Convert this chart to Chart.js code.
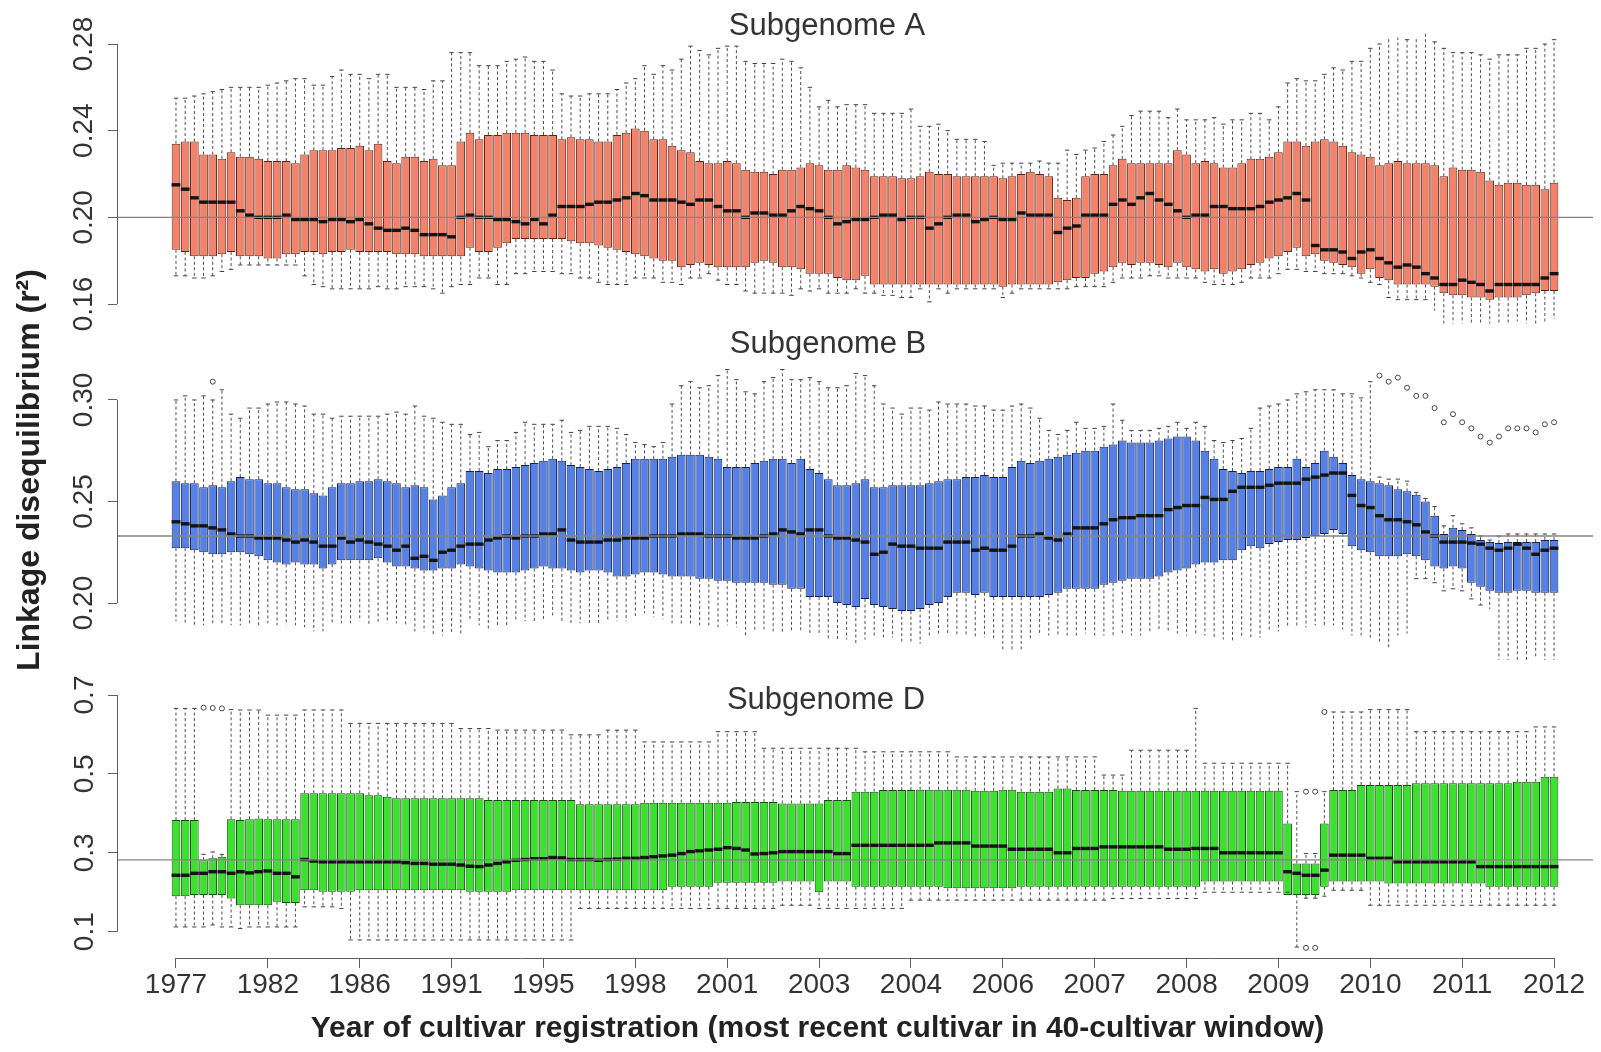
<!DOCTYPE html>
<html><head><meta charset="utf-8">
<script src="https://cdn.jsdelivr.net/npm/chart.js@4.4.1/dist/chart.umd.min.js"></script>
<style>
html,body{margin:0;padding:0;background:#fff;overflow:hidden;width:1601px;height:1052px;position:relative}
canvas{position:absolute;left:0;top:0}
</style></head><body>
<canvas id="cA" width="1601" height="1052"></canvas>
<canvas id="cB" width="1601" height="1052"></canvas>
<canvas id="cD" width="1601" height="1052"></canvas>
<script>
// ---- categories / tick labels ----
const xTickIdx = [0,10,20,30,40,50,60,70,80,90,100,110,120,130,140,150];
const yearLabels = ['1977','1982','1986','1991','1995','1998','2001','2003','2004','2006','2007','2008','2009','2010','2011','2012'];
const panelTitles = ['Subgenome A','Subgenome B','Subgenome D'];
const xTitle = 'Year of cultivar registration (most recent cultivar in 40-cultivar window)';
const yTitle = 'Linkage disequilibrium (r\u00B2)';
const yTicksA = [0.16,0.20,0.24,0.28], yLabelsA = ['0.16','0.20','0.24','0.28'];
const yTicksB = [0.20,0.25,0.30], yLabelsB = ['0.20','0.25','0.30'];
const yTicksD = [0.1,0.3,0.5,0.7], yLabelsD = ['0.1','0.3','0.5','0.7'];
const refA = 0.200, refB = 0.233, refD = 0.282;

// ---- Subgenome A ----
const loA = [.173,.173,.172,.172,.173,.175,.176,.178,.178,.178,
.178,.178,.178,.178,.173,.169,.168,.167,.167,.167,
.167,.167,.168,.167,.167,.168,.168,.168,.167,.165,
.168,.169,.169,.172,.172,.169,.169,.174,.174,.175,
.175,.175,.174,.174,.172,.172,.170,.169,.169,.169,
.172,.172,.172,.170,.170,.169,.172,.172,.174,.171,
.169,.169,.166,.165,.165,.165,.165,.164,.167,.166,
.167,.165,.165,.165,.167,.165,.165,.164,.164,.163,
.163,.167,.161,.167,.165,.167,.167,.167,.167,.167,
.163,.165,.167,.167,.167,.167,.167,.167,.168,.168,
.168,.168,.170,.172,.172,.172,.173,.173,.172,.172,
.172,.172,.170,.169,.169,.169,.170,.172,.172,.172,
.174,.176,.176,.175,.175,.174,.174,.174,.173,.172,
.170,.169,.163,.162,.162,.162,.162,.157,.151,.151,
.151,.151,.151,.151,.151,.151,.152,.151,.151,.151,
.153];
const q1A = [.185,.184,.182,.182,.182,.183,.184,.182,.182,.182,
.181,.181,.183,.183,.184,.184,.183,.184,.184,.185,
.184,.184,.184,.184,.183,.183,.183,.182,.182,.182,
.182,.182,.186,.184,.184,.186,.188,.190,.190,.190,
.190,.190,.190,.189,.188,.188,.187,.186,.185,.184,
.183,.182,.181,.180,.180,.177,.178,.179,.178,.177,
.177,.177,.177,.179,.180,.179,.177,.177,.176,.174,
.174,.174,.172,.171,.171,.173,.169,.169,.169,.169,
.169,.169,.169,.169,.169,.169,.169,.169,.169,.169,
.168,.169,.169,.169,.169,.169,.170,.171,.172,.172,
.174,.175,.177,.179,.178,.179,.179,.178,.177,.179,
.177,.176,.175,.176,.174,.175,.176,.178,.179,.181,
.182,.184,.186,.182,.183,.180,.179,.178,.177,.174,
.176,.172,.171,.169,.169,.169,.169,.168,.165,.164,
.164,.163,.163,.162,.163,.163,.163,.164,.165,.166,
.166];
const medA = [.215,.213,.209,.207,.207,.207,.207,.203,.201,.200,
.200,.200,.201,.199,.199,.199,.198,.199,.199,.198,
.199,.197,.195,.194,.194,.195,.194,.192,.192,.192,
.191,.200,.201,.200,.200,.199,.199,.198,.197,.199,
.197,.201,.205,.205,.205,.206,.207,.207,.208,.209,
.211,.210,.208,.208,.208,.207,.206,.208,.208,.205,
.203,.203,.200,.202,.202,.201,.201,.203,.205,.204,
.203,.200,.197,.198,.199,.199,.200,.201,.201,.199,
.200,.200,.195,.197,.200,.201,.201,.198,.199,.200,
.199,.199,.202,.201,.201,.201,.193,.195,.196,.201,
.201,.201,.206,.208,.206,.209,.211,.208,.206,.203,
.200,.201,.201,.205,.205,.204,.204,.204,.205,.207,
.208,.209,.211,.208,.187,.185,.185,.184,.181,.184,
.185,.181,.179,.177,.178,.177,.174,.172,.169,.169,
.171,.170,.169,.166,.169,.169,.169,.169,.169,.172,
.174];
const q3A = [.234,.235,.235,.229,.229,.227,.230,.228,.228,.227,
.226,.226,.226,.225,.229,.231,.231,.231,.232,.232,
.233,.231,.234,.226,.225,.228,.228,.226,.227,.224,
.224,.235,.239,.236,.238,.238,.239,.239,.239,.238,
.238,.238,.236,.237,.236,.236,.235,.235,.238,.239,
.241,.240,.236,.236,.233,.231,.230,.226,.225,.225,
.226,.225,.222,.221,.221,.220,.222,.222,.223,.225,
.224,.222,.222,.224,.223,.222,.219,.219,.219,.218,
.218,.219,.221,.220,.220,.219,.219,.219,.219,.219,
.218,.219,.220,.221,.220,.219,.209,.208,.209,.219,
.220,.220,.224,.227,.225,.225,.225,.225,.225,.231,
.229,.225,.226,.225,.223,.223,.225,.227,.227,.228,
.230,.235,.235,.233,.235,.236,.235,.233,.230,.229,
.228,.224,.225,.226,.225,.225,.225,.224,.219,.223,
.222,.222,.221,.217,.215,.216,.216,.215,.215,.213,
.216];
const hiA = [.255,.255,.256,.257,.258,.259,.260,.260,.260,.260,
.261,.262,.263,.264,.264,.261,.261,.265,.268,.266,
.266,.264,.266,.266,.260,.260,.260,.259,.263,.263,
.276,.276,.276,.270,.270,.270,.272,.273,.274,.272,
.272,.268,.257,.256,.256,.257,.257,.257,.259,.262,
.264,.270,.266,.270,.268,.273,.279,.277,.275,.278,
.279,.279,.272,.271,.271,.271,.273,.272,.269,.260,
.251,.254,.251,.252,.252,.252,.248,.248,.248,.248,
.250,.242,.242,.243,.240,.236,.236,.236,.235,.224,
.225,.225,.225,.225,.226,.225,.225,.231,.229,.231,
.232,.235,.238,.242,.247,.249,.249,.249,.246,.250,
.245,.245,.245,.246,.243,.245,.245,.248,.248,.245,
.251,.262,.264,.263,.263,.266,.269,.268,.272,.272,
.278,.280,.283,.283,.282,.283,.285,.281,.278,.276,
.276,.276,.275,.273,.275,.275,.275,.278,.278,.280,
.282];
const outIdxA = [], outValA = [];

// ---- Subgenome B ----
const loB = [.191,.190,.189,.189,.189,.190,.189,.189,.189,.189,
.190,.189,.189,.189,.188,.186,.186,.190,.190,.190,
.191,.189,.190,.190,.190,.189,.186,.186,.184,.184,
.185,.185,.191,.189,.187,.189,.189,.191,.191,.191,
.192,.193,.191,.190,.190,.189,.190,.191,.191,.191,
.193,.195,.193,.192,.190,.189,.189,.189,.189,.188,
.189,.188,.183,.186,.187,.186,.185,.186,.186,.184,
.184,.182,.182,.182,.180,.182,.183,.183,.183,.180,
.180,.180,.184,.184,.184,.184,.184,.183,.183,.182,
.176,.177,.176,.182,.184,.184,.184,.184,.184,.185,
.184,.184,.184,.184,.184,.184,.185,.186,.186,.185,
.184,.185,.184,.183,.182,.181,.183,.183,.183,.186,
.186,.188,.188,.188,.189,.189,.189,.187,.184,.184,
.182,.181,.178,.184,.185,.212,.212,.210,.206,.207,
.206,.202,.199,.197,.172,.172,.172,.172,.1725,.172,
.172];
const q1B = [.227,.227,.226,.225,.224,.224,.225,.225,.224,.223,
.221,.220,.219,.220,.219,.219,.217,.219,.221,.221,
.221,.221,.222,.220,.218,.218,.217,.216,.216,.217,
.217,.219,.218,.217,.216,.215,.215,.215,.216,.217,
.218,.217,.217,.216,.215,.216,.216,.215,.213,.213,
.214,.215,.215,.214,.213,.213,.213,.212,.212,.211,
.211,.210,.210,.210,.210,.209,.209,.207,.207,.203,
.203,.203,.200,.199,.198,.202,.199,.198,.197,.196,
.196,.197,.199,.200,.203,.205,.205,.204,.205,.203,
.203,.203,.203,.203,.203,.204,.205,.207,.207,.207,
.207,.209,.210,.211,.212,.212,.212,.213,.215,.216,
.217,.219,.220,.220,.221,.221,.226,.228,.227,.229,
.230,.231,.231,.232,.233,.234,.236,.234,.228,.226,
.225,.223,.223,.223,.224,.223,.221,.218,.217,.218,
.217,.210,.208,.206,.205,.205,.206,.206,.205,.205,
.205];
const medB = [.240,.239,.238,.238,.237,.236,.234,.233,.233,.232,
.232,.232,.231,.230,.231,.230,.228,.228,.232,.230,
.231,.230,.229,.228,.226,.228,.222,.223,.221,.225,
.226,.228,.229,.229,.231,.232,.233,.232,.233,.233,
.234,.234,.236,.231,.230,.230,.230,.231,.231,.232,
.232,.232,.233,.233,.233,.234,.234,.234,.233,.233,
.233,.232,.232,.232,.233,.234,.236,.235,.234,.236,
.236,.233,.232,.232,.231,.230,.224,.225,.229,.228,
.228,.227,.227,.227,.230,.230,.230,.226,.227,.226,
.226,.228,.233,.233,.234,.232,.231,.234,.237,.237,
.237,.239,.241,.242,.242,.243,.243,.243,.246,.247,
.248,.248,.252,.251,.251,.255,.257,.257,.257,.258,
.259,.259,.259,.261,.262,.263,.264,.264,.253,.248,
.247,.243,.241,.241,.240,.2385,.235,.233,.230,.230,
.230,.2295,.229,.227,.226,.227,.229,.227,.224,.226,
.227];
const q3B = [.260,.259,.259,.257,.258,.257,.260,.262,.261,.261,
.259,.259,.257,.256,.256,.254,.253,.257,.259,.259,
.260,.260,.261,.260,.259,.257,.258,.257,.251,.253,
.257,.259,.265,.265,.264,.266,.266,.267,.268,.269,
.270,.271,.270,.268,.267,.266,.265,.266,.267,.269,
.271,.271,.271,.271,.272,.273,.273,.273,.272,.271,
.267,.267,.267,.269,.270,.271,.271,.269,.271,.266,
.264,.261,.258,.258,.259,.261,.257,.257,.258,.258,
.258,.258,.259,.260,.261,.261,.262,.262,.263,.262,
.262,.267,.270,.269,.270,.271,.272,.273,.274,.275,
.275,.277,.278,.280,.279,.279,.279,.280,.281,.282,
.282,.280,.275,.271,.266,.265,.264,.265,.265,.266,
.267,.267,.271,.267,.269,.275,.272,.269,.263,.261,
.260,.259,.258,.256,.255,.2533,.250,.243,.234,.237,
.236,.234,.231,.230,.2295,.230,.230,.230,.230,.231,
.231];
const hiB = [.300,.302,.300,.302,.300,.305,.293,.291,.296,.296,
.298,.299,.299,.298,.297,.293,.293,.291,.292,.292,
.292,.292,.292,.293,.294,.293,.297,.292,.291,.289,
.288,.288,.283,.284,.277,.280,.280,.284,.289,.288,
.288,.288,.290,.284,.285,.287,.287,.287,.286,.283,
.279,.278,.277,.279,.298,.307,.309,.306,.307,.312,
.315,.310,.304,.303,.309,.311,.315,.310,.310,.311,
.309,.306,.306,.307,.313,.312,.307,.298,.296,.293,
.296,.296,.295,.299,.298,.298,.298,.297,.297,.295,
.295,.297,.298,.296,.291,.285,.283,.285,.289,.286,
.286,.287,.298,.290,.285,.285,.285,.286,.287,.289,
.286,.289,.287,.280,.279,.280,.281,.286,.296,.297,
.298,.300,.303,.304,.305,.305,.305,.303,.303,.301,
.309,.262,.261,.261,.260,.2545,.2515,.2475,.238,.243,
.239,.237,.233,.231,.233,.234,.234,.234,.234,.234,
.234];
const outIdxB = [4,131,132,133,134,135,135,136,136,137,137,138,138,139,139,140,140,141,141,142,142,143,143,144,145,146,147,148,149,150];
const outValB = [.309,.312,.309,.311,.306,.302,.179,.302,.1775,.296,.176,.289,.1745,.293,.173,.289,.172,.286,.171,.282,.1705,.279,.170,.282,.286,.286,.286,.284,.288,.289];

// ---- Subgenome D ----
const loD = [.112,.112,.112,.112,.117,.112,.112,.108,.112,.112,
.112,.112,.112,.112,.163,.163,.163,.163,.159,.079,
.079,.079,.079,.079,.079,.079,.079,.079,.079,.079,
.079,.079,.079,.079,.079,.079,.079,.079,.079,.079,
.079,.079,.079,.079,.159,.159,.159,.159,.159,.159,
.159,.159,.159,.159,.159,.159,.159,.159,.159,.159,
.159,.159,.159,.159,.159,.159,.167,.167,.167,.167,
.159,.159,.159,.159,.159,.159,.159,.159,.159,.159,
.180,.180,.180,.180,.180,.180,.180,.180,.180,.180,
.180,.180,.180,.180,.180,.180,.180,.180,.180,.180,
.180,.180,.184,.184,.184,.184,.184,.184,.184,.184,
.184,.184,.200,.200,.200,.200,.200,.200,.200,.200,
.200,.200,.061,.185,.185,.190,.205,.205,.205,.205,
.167,.167,.167,.167,.167,.167,.167,.167,.167,.167,
.167,.167,.167,.167,.167,.167,.167,.167,.167,.167,
.167];
const q1D = [.190,.190,.193,.193,.193,.193,.184,.167,.167,.167,
.167,.176,.173,.173,.205,.205,.201,.201,.201,.201,
.205,.205,.205,.205,.205,.205,.205,.205,.205,.205,
.205,.205,.201,.201,.201,.201,.201,.205,.205,.205,
.205,.205,.205,.205,.205,.205,.205,.205,.205,.205,
.205,.205,.205,.205,.214,.214,.214,.214,.214,.224,
.224,.224,.224,.224,.224,.224,.227,.227,.227,.227,
.200,.227,.227,.227,.214,.214,.214,.214,.214,.214,
.214,.214,.214,.214,.210,.210,.210,.210,.210,.210,
.210,.210,.214,.214,.214,.214,.214,.214,.214,.214,
.214,.214,.214,.214,.214,.214,.214,.214,.214,.214,
.214,.214,.227,.227,.227,.227,.227,.227,.227,.227,
.227,.193,.193,.193,.193,.214,.227,.227,.227,.227,
.227,.227,.222,.222,.222,.222,.222,.222,.222,.222,
.222,.222,.222,.214,.214,.214,.214,.214,.214,.214,
.214];
const medD = [.243,.243,.248,.248,.252,.252,.248,.252,.249,.252,
.254,.248,.248,.239,.283,.279,.277,.277,.277,.277,
.277,.277,.277,.277,.277,.275,.273,.273,.271,.271,
.271,.269,.266,.265,.269,.273,.277,.281,.283,.285,
.285,.288,.287,.283,.283,.283,.281,.283,.284,.286,
.286,.288,.290,.292,.294,.298,.303,.305,.307,.309,
.313,.311,.307,.297,.298,.300,.303,.303,.303,.303,
.303,.303,.298,.298,.319,.319,.319,.319,.319,.319,
.319,.319,.319,.325,.325,.325,.325,.317,.317,.317,
.317,.309,.309,.309,.309,.309,.300,.300,.311,.311,
.311,.315,.315,.315,.315,.315,.315,.315,.309,.309,
.309,.311,.311,.311,.300,.300,.300,.300,.300,.300,
.300,.252,.248,.243,.243,.256,.294,.294,.294,.294,
.286,.286,.286,.277,.277,.277,.277,.277,.277,.277,
.277,.277,.265,.265,.265,.265,.265,.265,.265,.265,
.265];
const q3D = [.383,.383,.383,.281,.286,.290,.385,.383,.385,.387,
.385,.385,.385,.385,.451,.451,.451,.451,.451,.451,
.451,.446,.446,.442,.438,.438,.438,.438,.438,.438,
.438,.438,.438,.438,.434,.434,.434,.434,.434,.434,
.434,.434,.434,.434,.423,.423,.423,.423,.423,.423,
.423,.427,.427,.427,.427,.427,.427,.427,.427,.427,
.427,.429,.429,.429,.429,.429,.425,.425,.425,.425,
.425,.434,.434,.434,.455,.455,.455,.459,.459,.459,
.459,.460,.460,.460,.460,.460,.460,.457,.457,.457,
.460,.460,.455,.455,.455,.455,.463,.463,.459,.459,
.459,.459,.459,.457,.457,.457,.457,.457,.457,.457,
.457,.457,.457,.457,.457,.457,.457,.457,.457,.457,
.457,.374,.273,.273,.273,.374,.459,.459,.459,.472,
.472,.472,.472,.472,.472,.476,.476,.476,.476,.476,
.476,.476,.476,.476,.476,.476,.480,.480,.480,.493,
.493];
const hiD = [.666,.666,.666,.296,.302,.296,.663,.662,.662,.662,
.649,.649,.649,.649,.662,.662,.662,.662,.662,.628,
.628,.628,.628,.628,.628,.628,.628,.628,.628,.628,
.628,.615,.615,.615,.615,.611,.611,.611,.611,.611,
.611,.611,.611,.599,.599,.599,.599,.611,.611,.611,
.611,.581,.581,.581,.581,.581,.581,.581,.581,.607,
.607,.607,.607,.607,.565,.565,.565,.565,.565,.565,
.565,.565,.565,.565,.565,.556,.556,.556,.556,.556,
.556,.556,.556,.556,.556,.543,.543,.543,.543,.543,
.543,.543,.543,.543,.543,.543,.543,.543,.543,.543,
.543,.497,.497,.497,.560,.560,.560,.560,.560,.560,
.560,.666,.527,.527,.527,.527,.527,.527,.527,.527,
.527,.527,.455,.298,.298,.455,.657,.657,.657,.657,
.663,.663,.663,.663,.663,.607,.607,.607,.607,.607,
.607,.607,.607,.607,.607,.607,.607,.607,.619,.619,
.619];
const outIdxD = [3,4,5,123,123,124,124,125];
const outValD = [.668,.667,.666,.455,.059,.455,.059,.657];

// ---- drawing ----
const FONT = "'Liberation Sans', Arial, Helvetica, sans-serif";
const X_MIN = -6.42, X_MAX = 154.24;
Chart.defaults.font.family = FONT;

function alignPx(p){ return Math.round(p - 0.5) + 0.5; }

const panelTitlePlugin = {
  id: 'panelTitle',
  afterDraw(chart, args, o) {
    const ctx = chart.ctx;
    ctx.save();
    ctx.font = o.size + 'px ' + FONT;
    ctx.fillStyle = o.color;
    ctx.textAlign = 'center';
    ctx.textBaseline = 'middle';
    ctx.fillText(o.text, o.x, o.y);
    ctx.restore();
  }
};
const axisLinePlugin = {
  id: 'axisLine',
  afterDraw(chart, args, o) {
    const {ctx, chartArea, scales} = chart;
    ctx.save();
    ctx.strokeStyle = o.color; ctx.lineWidth = 1;
    const ys = scales.y, t = o.yTicks;
    const x0 = alignPx(chartArea.left);
    ctx.beginPath();
    ctx.moveTo(x0, ys.getPixelForValue(t[0]));
    ctx.lineTo(x0, ys.getPixelForValue(t[t.length-1]));
    ctx.stroke();
    if (o.xAxis) {
      const xs = scales.x, y0 = alignPx(chartArea.bottom);
      ctx.beginPath();
      ctx.moveTo(xs.getPixelForValue(xTickIdx[0]), y0);
      ctx.lineTo(xs.getPixelForValue(xTickIdx[xTickIdx.length-1]), y0);
      ctx.stroke();
    }
    ctx.restore();
  }
};

function makePanel(id, p) {
  const n = p.med.length;
  const boxes = p.q1.map((v, i) => ({x: i, y: [v, p.q3[i]]}));
  const whisk = [], caps = [];
  for (let i = 0; i < n; i++) {
    whisk.push({x:i,y:p.q3[i]},{x:i,y:p.hi[i]},{x:i,y:null},{x:i,y:p.q1[i]},{x:i,y:p.lo[i]},{x:i,y:null});
    caps.push({x:i,y:p.lo[i]},{x:i,y:p.hi[i]});
  }
  const meds = p.med.map((v, i) => ({x: i, y: v}));
  const outs = p.outIdx.map((ix, k) => ({x: ix, y: p.outVal[k]}));
  const ref = [{x: X_MIN, y: p.ref}, {x: X_MAX, y: p.ref}];

  return new Chart(document.getElementById(id), {
    type: 'bar',
    data: { datasets: [
      {type:'line', data: ref, borderColor:'#858585', borderWidth:1.3, pointRadius:0, clip:false, order:0},
      {type:'line', data: meds, showLine:false, pointStyle:'line', pointRadius:4.4, pointBorderWidth:3.4, pointBorderColor:'#141414', clip:false, order:1},
      {type:'line', data: outs, showLine:false, pointStyle:'circle', pointRadius:2.5, pointBorderWidth:1, pointBorderColor:'#444', pointBackgroundColor:'rgba(255,255,255,0)', clip:false, order:2},
      {type:'line', data: caps, showLine:false, pointStyle:'line', pointRadius:2.2, pointBorderWidth:1, pointBorderColor:'#444', clip:false, order:2},
      {type:'bar', data: boxes, backgroundColor:p.fill, borderColor:p.stroke, borderWidth:1, borderSkipped:false, barPercentage:0.94, categoryPercentage:1, grouped:false, clip:false, order:3},
      {type:'line', data: whisk, borderColor:'#4e4e4e', borderWidth:1, borderDash:[3,2.5], pointRadius:0, spanGaps:false, clip:false, order:4}
    ]},
    options: {
      responsive:false, animation:false, events:[],
      layout:{padding:p.pad},
      plugins:{
        legend:{display:false}, tooltip:{enabled:false},
        title: p.xTitle ? {display:true, position:'bottom', text:p.xTitle, color:'#222',
          font:{family:FONT, size:30, weight:'bold'}, padding:{top:0, bottom:5}} : {display:false},
        panelTitle:{text:p.title, x:p.titleX, y:p.titleY, size:31, color:'#333'},
        axisLine:{color:'#606060', yTicks:p.yTicks, xAxis:!!p.showX}
      },
      scales:{
        x:{type:'linear', min:X_MIN, max:X_MAX, offset:false, display:!!p.showX,
          afterBuildTicks:s=>{ s.ticks = xTickIdx.map(v=>({value:v})); },
          afterFit:s=>{ if (p.showX) s.height = 53; },
          ticks:{autoSkip:false, minRotation:0, maxRotation:0, padding:0, color:'#333',
            font:{family:FONT, size:28}, callback:(v,i)=>yearLabels[i]},
          grid:{drawOnChartArea:false, drawTicks:true, tickLength:10, color:'#606060', offset:false},
          border:{display:false}},
        y:{type:'linear', position:'left', min:p.min, max:p.max,
          afterFit:s=>{ s.width = p.yWidth; },
          afterBuildTicks:s=>{ s.ticks = p.yTicks.map(v=>({value:v})); },
          ticks:{autoSkip:false, minRotation:90, maxRotation:90, crossAlign:'center', padding:p.tickPad,
            color:'#333', font:{family:FONT, size:28}, callback:(v,i)=>p.yLabels[i]},
          grid:{drawOnChartArea:false, drawTicks:true, tickLength:9, color:'#606060'},
          border:{display:false},
          title: p.yTitle ? {display:true, text:p.yTitle, color:'#222',
            font:{family:FONT, size:32, weight:'bold'}, padding:{top:11, bottom:0}} : {display:false}}
      }
    },
    plugins:[panelTitlePlugin, axisLinePlugin]
  });
}

makePanel('cA', {lo:loA, q1:q1A, med:medA, q3:q3A, hi:hiA, outIdx:outIdxA, outVal:outValA,
  ref:refA, min:0.16, max:0.28, yTicks:yTicksA, yLabels:yLabelsA, tickPad:-4, yWidth:117,
  pad:{left:0, right:8, top:44, bottom:748},
  fill:'#F2836A', stroke:'#5e2418', title:panelTitles[0], titleX:827, titleY:26});

makePanel('cB', {lo:loB, q1:q1B, med:medB, q3:q3B, hi:hiB, outIdx:outIdxB, outVal:outValB,
  ref:refB, min:0.20, max:0.331, yTicks:yTicksB, yLabels:yLabelsB, tickPad:-4, yWidth:117,
  pad:{left:0, right:8, top:337, bottom:449}, yTitle:yTitle,
  fill:'#5580E6', stroke:'#16224f', title:panelTitles[1], titleX:828, titleY:344});

makePanel('cD', {lo:loD, q1:q1D, med:medD, q3:q3D, hi:hiD, outIdx:outIdxD, outVal:outValD,
  ref:refD, min:0.0333, max:0.70, yTicks:yTicksD, yLabels:yLabelsD, tickPad:3.5, yWidth:75,
  pad:{left:42, right:8, top:695, bottom:0}, showX:true, xTitle:xTitle,
  fill:'#3CE02E', stroke:'#154f10', title:panelTitles[2], titleX:826, titleY:700});
</script>
</body></html>
